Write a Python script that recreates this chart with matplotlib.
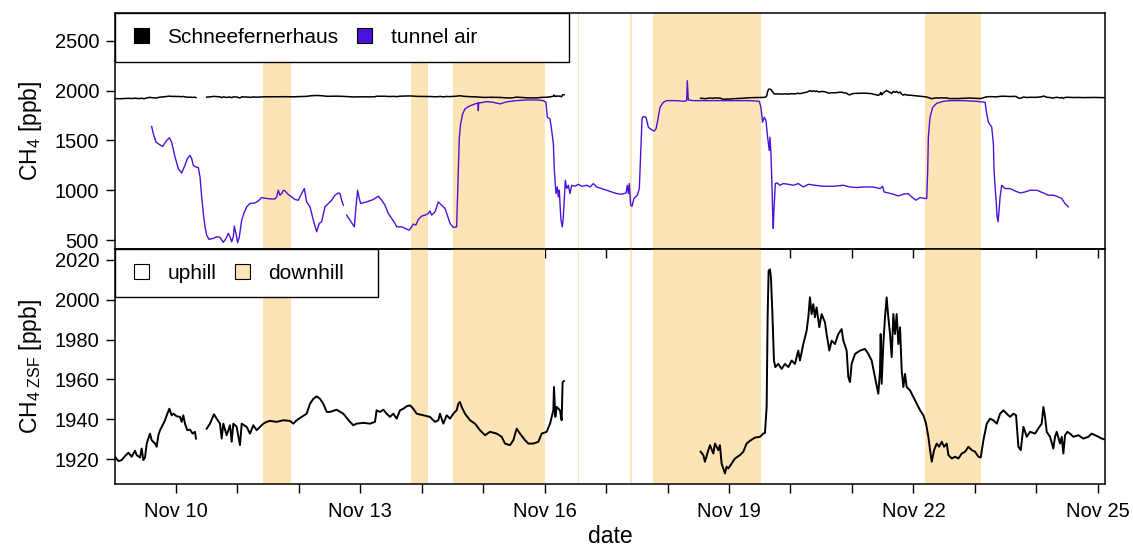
import matplotlib
matplotlib.use('Agg')
import matplotlib.pyplot as plt
import matplotlib.dates as mdates
from matplotlib.patches import Patch, Rectangle
import numpy as np

plt.rcParams['font.family'] = ['Liberation Sans', 'DejaVu Sans']
plt.rcParams['mathtext.fontset'] = 'custom'
plt.rcParams['mathtext.rm'] = 'Liberation Sans'
plt.rcParams['mathtext.it'] = 'Liberation Sans:italic'
plt.rcParams['mathtext.bf'] = 'Liberation Sans:bold'

colors = ['#000000', '#4B12DB', '#FDE4B6']

# x values are day of November (10.5 = Nov 10, 12:00)
# Schneefernerhaus (ZSF) CH4, three pieces with gaps
zsf_day_a = [9.007, 9.062, 9.116, 9.170, 9.224, 9.279, 9.333, 9.360, 9.414, 9.441, 9.468, 9.496,
             9.523, 9.577, 9.604, 9.658, 9.685, 9.713, 9.740, 9.794, 9.821, 9.859, 9.892, 9.929,
             9.957, 10.011, 10.065, 10.092, 10.119, 10.146, 10.184, 10.228, 10.271, 10.309, 10.325]
zsf_ppb_a = [1921.2, 1919.0, 1919.5, 1921.5, 1923.2, 1921.2, 1924.2, 1922.0, 1920.8, 1925.3, 1919.5, 1920.8,
             1927.8, 1932.8, 1929.5, 1927.8, 1926.2, 1932.0, 1934.5, 1937.8, 1939.5, 1942.8, 1945.3, 1942.0,
             1942.8, 1941.5, 1941.2, 1938.7, 1942.0, 1937.8, 1934.5, 1934.8, 1932.8, 1933.7, 1930.3]
zsf_day_b = [10.499, 10.553, 10.618, 10.662, 10.716, 10.743, 10.770, 10.824, 10.879, 10.906, 10.933, 10.987,
             11.041, 11.069, 11.150, 11.204, 11.258, 11.313, 11.367, 11.421, 11.475, 11.530, 11.638, 11.747,
             11.855, 11.909, 11.964, 12.045, 12.126, 12.181, 12.235, 12.289, 12.343, 12.397, 12.452, 12.506,
             12.614, 12.723, 12.831, 12.886, 12.940, 13.048, 13.157, 13.238, 13.265, 13.320, 13.374, 13.428,
             13.482, 13.537, 13.591, 13.645, 13.699, 13.753, 13.808, 13.862, 13.916, 14.025, 14.133, 14.215,
             14.269, 14.296, 14.350, 14.405, 14.459, 14.513, 14.567, 14.595, 14.622, 14.649, 14.703, 14.785,
             14.866, 14.947, 15.029, 15.110, 15.219, 15.300, 15.354, 15.436, 15.490, 15.544, 15.598, 15.680,
             15.734, 15.815, 15.897, 15.951, 16.032, 16.087, 16.141, 16.151, 16.173, 16.195, 16.249, 16.276,
             16.292, 16.314]
zsf_ppb_b = [1935.3, 1937.8, 1942.5, 1940.3, 1937.8, 1930.3, 1937.8, 1932.0, 1937.0, 1928.7, 1937.8, 1936.2,
             1927.0, 1937.8, 1936.2, 1932.8, 1937.0, 1934.5, 1936.2, 1937.8, 1938.7, 1939.2, 1938.7, 1939.5,
             1939.2, 1937.8, 1939.5, 1941.2, 1942.8, 1947.8, 1950.3, 1951.5, 1950.3, 1947.8, 1943.7, 1943.7,
             1944.8, 1942.8, 1938.7, 1937.0, 1937.8, 1938.2, 1937.8, 1938.7, 1944.5, 1943.7, 1944.8, 1942.8,
             1941.2, 1942.8, 1940.3, 1944.5, 1945.3, 1946.5, 1947.0, 1945.3, 1942.8, 1942.0, 1941.2, 1938.7,
             1939.5, 1942.8, 1937.8, 1942.0, 1940.3, 1942.8, 1944.5, 1947.8, 1948.7, 1946.2, 1942.8, 1939.5,
             1937.8, 1934.5, 1932.0, 1933.7, 1932.8, 1931.2, 1927.8, 1927.0, 1929.5, 1935.3, 1932.8, 1929.5,
             1927.8, 1927.8, 1928.7, 1932.8, 1933.7, 1937.8, 1944.5, 1956.2, 1941.2, 1946.2, 1944.5, 1939.5,
             1958.7, 1959.2]
zsf_day_c = [18.538, 18.581, 18.608, 18.663, 18.690, 18.744, 18.771, 18.825, 18.852, 18.879, 18.906, 18.934,
             18.961, 18.988, 19.042, 19.097, 19.178, 19.232, 19.286, 19.341, 19.422, 19.503, 19.558, 19.585,
             19.612, 19.628, 19.644, 19.666, 19.682, 19.704, 19.731, 19.753, 19.802, 19.856, 19.910, 19.965,
             20.019, 20.073, 20.127, 20.154, 20.209, 20.263, 20.290, 20.317, 20.344, 20.371, 20.398, 20.425,
             20.469, 20.507, 20.561, 20.588, 20.632, 20.670, 20.724, 20.778, 20.833, 20.860, 20.914, 20.941,
             20.968, 20.995, 21.050, 21.131, 21.212, 21.267, 21.321, 21.375, 21.429, 21.457, 21.468, 21.484,
             21.511, 21.538, 21.565, 21.592, 21.620, 21.647, 21.674, 21.701, 21.728, 21.756, 21.783, 21.810,
             21.837, 21.864, 21.891, 21.946, 22.000, 22.054, 22.109, 22.163, 22.206, 22.244, 22.272, 22.299,
             22.337, 22.380, 22.418, 22.462, 22.500, 22.543, 22.570, 22.625, 22.679, 22.733, 22.787, 22.842,
             22.896, 22.950, 23.004, 23.058, 23.096, 23.140, 23.194, 23.248, 23.302, 23.357, 23.411, 23.465,
             23.519, 23.574, 23.628, 23.671, 23.709, 23.747, 23.791, 23.845, 23.899, 23.980, 24.051, 24.088,
             24.116, 24.143, 24.170, 24.224, 24.278, 24.305, 24.332, 24.387, 24.414, 24.441, 24.468, 24.506,
             24.549, 24.604, 24.685, 24.766, 24.848, 24.902, 24.956, 25.011, 25.065, 25.119]
zsf_ppb_c = [1923.7, 1922.0, 1918.7, 1924.5, 1927.0, 1922.8, 1927.8, 1924.5, 1927.0, 1917.8, 1915.3, 1912.8,
             1916.2, 1915.3, 1917.8, 1920.3, 1922.0, 1923.7, 1927.8, 1929.2, 1930.8, 1931.2, 1932.8, 1933.2,
             1946.2, 1991.2, 2014.5, 2015.3, 2011.2, 1994.5, 1969.5, 1966.2, 1967.8, 1965.3, 1967.8, 1966.2,
             1969.5, 1967.8, 1974.5, 1969.5, 1977.8, 1984.5, 1991.2, 2001.2, 1992.8, 1997.8, 1991.2, 1996.2,
             1986.2, 1992.8, 1988.7, 1982.8, 1974.5, 1979.5, 1977.8, 1982.8, 1985.3, 1979.5, 1974.5, 1961.2,
             1958.7, 1967.8, 1972.8, 1974.5, 1975.3, 1972.8, 1969.5, 1961.2, 1952.8, 1964.5, 1982.8, 1957.8,
             1977.8, 1991.2, 2001.2, 1991.2, 1982.8, 1971.2, 1992.8, 1982.8, 1992.8, 1977.8, 1986.2, 1964.5,
             1956.2, 1962.8, 1956.2, 1954.5, 1951.2, 1947.8, 1944.5, 1942.0, 1937.8, 1931.2, 1924.5, 1918.7,
             1924.5, 1927.8, 1926.2, 1928.7, 1926.2, 1927.8, 1922.0, 1920.3, 1921.2, 1920.3, 1922.8, 1923.7,
             1926.2, 1924.5, 1923.7, 1921.2, 1920.8, 1929.5, 1937.8, 1940.3, 1939.5, 1937.8, 1942.8, 1944.5,
             1942.8, 1941.2, 1942.8, 1942.0, 1926.2, 1924.5, 1936.2, 1931.2, 1933.7, 1932.8, 1936.2, 1937.8,
             1946.2, 1941.2, 1933.7, 1931.2, 1925.3, 1931.2, 1933.7, 1927.8, 1931.2, 1922.8, 1932.0, 1933.7,
             1932.8, 1931.2, 1932.0, 1930.3, 1931.2, 1932.8, 1932.0, 1931.2, 1930.3, 1929.8]

# tunnel air CH4, two pieces
tunnel_day_a = [9.604, 9.631, 9.675, 9.729, 9.783, 9.848, 9.892, 9.929, 9.984, 10.038, 10.092, 10.146,
                10.184, 10.228, 10.255, 10.282, 10.325, 10.363, 10.391, 10.418, 10.445, 10.472, 10.499, 10.537,
                10.607, 10.662, 10.716, 10.770, 10.814, 10.852, 10.879, 10.906, 10.933, 10.949, 10.976, 11.003,
                11.031, 11.069, 11.107, 11.150, 11.204, 11.286, 11.340, 11.394, 11.448, 11.530, 11.611, 11.638,
                11.665, 11.692, 11.720, 11.747, 11.774, 11.828, 11.882, 11.936, 11.990, 12.045, 12.088, 12.126,
                12.181, 12.235, 12.289, 12.332, 12.370, 12.424, 12.479, 12.533, 12.587, 12.641, 12.669, 12.696,
                12.723]
tunnel_ppb_a = [1640, 1567, 1483, 1460, 1440, 1500, 1527, 1483, 1333, 1217, 1173, 1250,
                1317, 1350, 1317, 1250, 1233, 1227, 1133, 933, 767, 633, 550, 507,
                517, 533, 527, 477, 517, 567, 533, 483, 533, 640, 567, 473,
                533, 700, 773, 833, 867, 873, 893, 927, 920, 913, 913, 933,
                1000, 950, 967, 1000, 993, 957, 933, 907, 900, 967, 1017, 883,
                833, 700, 583, 667, 683, 833, 867, 900, 950, 973, 967, 900,
                850]
tunnel_day_b = [12.777, 12.831, 12.902, 12.929, 12.956, 12.983, 13.005, 13.103, 13.211, 13.293, 13.347, 13.401,
                13.455, 13.510, 13.564, 13.591, 13.672, 13.753, 13.797, 13.835, 13.862, 13.905, 13.943, 13.998,
                14.052, 14.106, 14.133, 14.160, 14.215, 14.269, 14.323, 14.378, 14.416, 14.459, 14.513, 14.567,
                14.578, 14.594, 14.611, 14.632, 14.665, 14.703, 14.757, 14.795, 14.866, 14.914, 14.920, 14.925,
                14.947, 15.056, 15.165, 15.273, 15.354, 15.436, 15.544, 15.707, 15.869, 15.978, 16.021, 16.043,
                16.087, 16.114, 16.141, 16.157, 16.184, 16.206, 16.222, 16.238, 16.249, 16.265, 16.287, 16.303,
                16.320, 16.336, 16.358, 16.385, 16.412, 16.439, 16.493, 16.548, 16.602, 16.683, 16.738, 16.792,
                16.846, 16.927, 17.009, 17.090, 17.172, 17.253, 17.323, 17.345, 17.361, 17.377, 17.399, 17.421,
                17.453, 17.508, 17.540, 17.562, 17.584, 17.605, 17.649, 17.687, 17.741, 17.779, 17.812, 17.839,
                17.877, 17.931, 17.985, 18.067, 18.148, 18.256, 18.311, 18.321, 18.338, 18.419, 18.581, 18.798,
                19.069, 19.340, 19.492, 19.519, 19.546, 19.573, 19.601, 19.628, 19.655, 19.666, 19.682, 19.698,
                19.709, 19.720, 19.731, 19.742, 19.753, 19.785, 19.829, 19.883, 19.965, 20.046, 20.127, 20.209,
                20.290, 20.399, 20.534, 20.697, 20.860, 20.968, 21.077, 21.185, 21.348, 21.457, 21.500, 21.522,
                21.592, 21.674, 21.755, 21.837, 21.918, 21.973, 22.043, 22.108, 22.190, 22.217, 22.233, 22.244,
                22.271, 22.315, 22.380, 22.488, 22.597, 22.814, 23.031, 23.167, 23.194, 23.221, 23.275, 23.302,
                23.313, 23.330, 23.346, 23.362, 23.378, 23.395, 23.411, 23.438, 23.492, 23.573, 23.655, 23.736,
                23.818, 23.899, 24.007, 24.116, 24.197, 24.278, 24.332, 24.414, 24.468, 24.522]
tunnel_ppb_b = [750, 700, 633, 833, 1000, 917, 867, 883, 907, 940, 900, 850,
                767, 717, 667, 633, 633, 610, 600, 633, 660, 650, 707, 740,
                750, 767, 793, 750, 783, 883, 850, 817, 750, 667, 627, 633,
                867, 1200, 1533, 1667, 1767, 1817, 1840, 1850, 1867, 1877, 1800, 1877,
                1877, 1890, 1883, 1867, 1883, 1893, 1900, 1907, 1907, 1900, 1883, 1733,
                1717, 1600, 1467, 1200, 967, 1033, 933, 1000, 867, 700, 633, 733,
                933, 1100, 1017, 1050, 967, 1050, 1040, 1060, 1040, 1050, 1033, 1067,
                1033, 1017, 1000, 983, 967, 960, 973, 1050, 967, 1067, 850, 840,
                917, 950, 1017, 1367, 1717, 1740, 1733, 1633, 1607, 1593, 1617, 1700,
                1833, 1883, 1900, 1900, 1900, 1893, 1900, 2100, 1907, 1900, 1900, 1900,
                1900, 1900, 1893, 1833, 1683, 1733, 1700, 1533, 1400, 1533, 1367, 1067,
                800, 617, 800, 933, 1067, 1073, 1050, 1067, 1060, 1050, 1067, 1033,
                1060, 1050, 1040, 1040, 1050, 1033, 1027, 1033, 1033, 1017, 1040, 983,
                973, 960, 943, 960, 967, 933, 900, 927, 917, 917, 1200, 1533,
                1733, 1833, 1873, 1893, 1900, 1900, 1893, 1883, 1767, 1683, 1633, 1467,
                1200, 1033, 900, 733, 683, 800, 933, 1050, 1017, 1017, 993, 973,
                983, 1000, 1000, 973, 950, 950, 940, 917, 867, 833]

# downhill periods (start, end) as day of November
downhill_start = [11.416, 13.824, 14.516, 16.540, 17.393, 17.762, 22.189]
downhill_end = [11.867, 14.096, 16.005, 16.556, 17.425, 19.515, 23.095]

top_yticks = [500, 1000, 1500, 2000, 2500]
bottom_yticks = [1920, 1940, 1960, 1980, 2000, 2020]

t0 = mdates.date2num(np.datetime64('2019-11-01'))


def to_num(days):
    return t0 + np.asarray(days) - 1


def shade(ax):
    for s, e in zip(downhill_start, downhill_end):
        ax.axvspan(to_num(s), to_num(e), color=colors[2], lw=0, zorder=0)


def style(ax):
    for sp in ax.spines.values():
        sp.set_linewidth(1.1)
    ax.tick_params(which='both', direction='out', length=6.5, width=1.0, labelsize=14.5, pad=6.5)
    ax.tick_params(axis='y', pad=5)


def draw_legend(ax, handles, labels, box_w, box_h):
    ax.add_patch(Rectangle((0, 1 - box_h), box_w, box_h, transform=ax.transAxes,
                           facecolor='white', edgecolor='black', lw=1.0, zorder=5, clip_on=False))
    ax.legend(handles, labels, loc='center left', bbox_to_anchor=(0.0192, 1 - box_h / 2),
              ncol=2, frameon=False, fontsize=15, borderpad=0, borderaxespad=0,
              handlelength=0.7, handleheight=0.7, handletextpad=0.9, columnspacing=0.9).set_zorder(6)


fig = plt.figure(figsize=(11.33, 5.48), dpi=100)
ax1 = fig.add_axes([0.1015, 0.5456, 0.8738, 0.4307])
ax2 = fig.add_axes([0.1015, 0.1168, 0.8738, 0.4288])
ax2.set_facecolor('none')

x_lo = tunnel_day_a[0]
x_hi = tunnel_day_b[-1]
pad = 0.04 * (x_hi - x_lo)

# top panel
shade(ax1)
for d, v in [(zsf_day_a, zsf_ppb_a), (zsf_day_b, zsf_ppb_b), (zsf_day_c, zsf_ppb_c)]:
    ax1.plot(to_num(d), v, color=colors[0], lw=1.1, zorder=2)
for d, v in [(tunnel_day_a, tunnel_ppb_a), (tunnel_day_b, tunnel_ppb_b)]:
    ax1.plot(to_num(d), v, color=colors[1], lw=1.0, zorder=3)
ax1.set_ylim(410, 2780)
ax1.set_yticks(top_yticks)
ax1.set_ylabel('CH$_4$ [ppb]', fontsize=16.5)
ax1.yaxis.set_label_coords(-0.072, 0.5)
draw_legend(ax1, [Patch(facecolor=colors[0], edgecolor='black', lw=0.8),
                  Patch(facecolor=colors[1], edgecolor='black', lw=0.8)],
            ['Schneefernerhaus', 'tunnel air'], 0.4586, 0.2076)

# bottom panel
shade(ax2)
for d, v in [(zsf_day_a, zsf_ppb_a), (zsf_day_b, zsf_ppb_b), (zsf_day_c, zsf_ppb_c)]:
    ax2.plot(to_num(d), v, color=colors[0], lw=1.4, zorder=2)
ax2.set_ylim(1907.5, 2025.5)
ax2.set_yticks(bottom_yticks)
ax2.set_ylabel('CH$_{4\\ \\mathrm{ZSF}}$ [ppb]', fontsize=16.5)
ax2.yaxis.set_label_coords(-0.072, 0.5)
ax2.set_xlabel('date', fontsize=16.5, labelpad=3)
draw_legend(ax2, [Patch(facecolor='white', edgecolor='black', lw=0.8),
                  Patch(facecolor=colors[2], edgecolor='black', lw=0.8)],
            ['uphill', 'downhill'], 0.2657, 0.2043)

for ax in (ax1, ax2):
    ax.set_xlim(to_num(x_lo - pad), to_num(x_hi + pad))
    ax.xaxis.set_major_locator(mdates.DayLocator(bymonthday=[1, 4, 7, 10, 13, 16, 19, 22, 25, 28]))
    ax.xaxis.set_minor_locator(mdates.DayLocator())
    ax.xaxis.set_major_formatter(mdates.DateFormatter('%b %d'))
    style(ax)
ax1.tick_params(axis='x', which='both', labelbottom=False)

plt.savefig('out.png', dpi=100)
